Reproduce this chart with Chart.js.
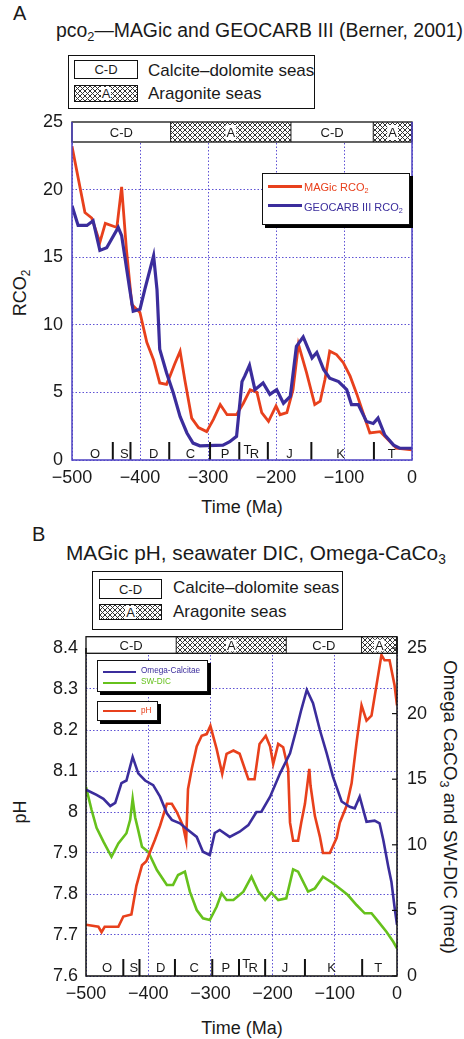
<!DOCTYPE html>
<html>
<head>
<meta charset="utf-8">
<script src="https://cdn.jsdelivr.net/npm/chart.js@4.4.1/dist/chart.umd.min.js"></script>
<style>
  html, body { margin: 0; padding: 0; background: #fff; }
  body { width: 464px; height: 1039px; position: relative; overflow: hidden;
         font-family: "Liberation Sans", Arial, Helvetica, sans-serif; color: #1a1a1a; }
  .t { position: absolute; line-height: 1; white-space: nowrap; }
  .rot { position: absolute; line-height: 1; white-space: nowrap; transform: translate(-50%, -50%) rotate(-90deg); }
  .rot.cw { transform: translate(-50%, -50%) rotate(90deg); }
  sub { font-size: 0.66em; vertical-align: -0.32em; line-height: 0; }
  canvas { position: absolute; left: 0; }
  .key { position: absolute; border: 1.5px solid #111; box-sizing: border-box; }
  .sw { position: absolute; border: 1px solid #111; box-sizing: border-box; background: #fff;
        font-size: 13px; line-height: 1; display: flex; align-items: center; justify-content: center; }
  .sw span { background: #fff; padding: 0 1px; }
  .lbox { position: absolute; border: 1px solid #111; box-sizing: border-box; background: #fff; box-shadow: 3px 3px 0 #000; }
  .ln { position: absolute; height: 3px; }
</style>
</head>
<body>
<div class="t" style="left:13px;top:3px;font-size:20px">A</div>
<div class="t" style="left:56px;top:21px;font-size:19.4px">pco<sub>2</sub>—MAGic and GEOCARB III (Berner, 2001)</div>
<div class="key" style="left:68px;top:55px;width:247px;height:54px"></div>
<div class="sw" style="left:74px;top:60px;width:64px;height:19px">C-D</div>
<div class="sw hatch" style="left:74px;top:85px;width:64px;height:17px"><span>A</span></div>
<div class="t" style="left:148px;top:62.3px;font-size:17px">Calcite–dolomite seas</div>
<div class="t" style="left:148px;top:85px;font-size:17px">Aragonite seas</div>
<div class="rot" style="left:20px;top:293px;font-size:18px">RCO<sub>2</sub></div>
<div class="t" style="left:242px;top:498px;font-size:18px;transform:translateX(-50%)">Time (Ma)</div>

<div class="t" style="left:32px;top:524px;font-size:20px">B</div>
<div class="t" style="left:66px;top:543px;font-size:20.8px">MAGic pH, seawater DIC, Omega-CaCo<sub>3</sub></div>
<div class="key" style="left:92px;top:571px;width:251px;height:59px"></div>
<div class="sw" style="left:99px;top:579px;width:63px;height:20px">C-D</div>
<div class="sw hatch" style="left:99px;top:604px;width:63px;height:16px"><span>A</span></div>
<div class="t" style="left:173px;top:579px;font-size:17px">Calcite–dolomite seas</div>
<div class="t" style="left:173px;top:602.5px;font-size:17px">Aragonite seas</div>
<div class="rot" style="left:20px;top:812px;font-size:18px">pH</div>
<div class="rot cw" style="left:450px;top:807px;font-size:19px">Omega CaCO<sub>3</sub> and SW-DIC (meq)</div>
<div class="t" style="left:242px;top:1019px;font-size:18px;transform:translateX(-50%)">Time (Ma)</div>

<canvas id="chartA" width="464" height="500" style="top:0"></canvas>
<canvas id="chartB" width="464" height="539" style="top:500px"></canvas>

<!-- legends inside the plots -->
<div class="lbox" style="left:262px;top:173px;width:148px;height:52px"></div>
<div class="ln" style="left:268px;top:184.5px;width:34px;background:#e8401c"></div>
<div class="t" style="left:304px;top:182.4px;font-size:11px;color:#e8401c">MAGic RCO<sub>2</sub></div>
<div class="ln" style="left:268px;top:204.3px;width:34px;background:#3b2d9c"></div>
<div class="t" style="left:304px;top:202.4px;font-size:11px;color:#3b2d9c">GEOCARB III RCO<sub>2</sub></div>

<div class="lbox" style="left:97px;top:660px;width:111px;height:32px"></div>
<div class="ln" style="left:103px;top:670.5px;width:33px;height:2.5px;background:#3b2d9c"></div>
<div class="t" style="left:141px;top:667.2px;font-size:8.2px;color:#3b2d9c">Omega-Calcitae</div>
<div class="ln" style="left:103px;top:681.5px;width:33px;height:2.5px;background:#66c11c"></div>
<div class="t" style="left:141px;top:678.2px;font-size:8.2px;color:#66c11c">SW-DIC</div>
<div class="lbox" style="left:97px;top:701px;width:61px;height:20px"></div>
<div class="ln" style="left:103px;top:709.5px;width:33px;height:2.5px;background:#e8401c"></div>
<div class="t" style="left:141px;top:706.5px;font-size:8.2px;color:#e8401c">pH</div>

<script>
// axis ticks
const timeTicks = [-500, -400, -300, -200, -100, 0];
const rcoTicks = [0, 5, 10, 15, 20, 25];
const phTicks = [7.6, 7.7, 7.8, 7.9, 8, 8.1, 8.2, 8.3, 8.4];
const meqTicks = [0, 5, 10, 15, 20, 25];

// calcite / aragonite sea intervals (Ma)
const seaBounds = [-500, -355, -178, -57, 0];
const seaKinds = ['C-D', 'A', 'C-D', 'A'];

// geologic periods (Ma)
const periodBreaks = [-440, -414, -357, -297, -254, -212, -148, -56];
const periodNames = ['O', 'S', 'D', 'C', 'P', 'TR', 'J', 'K', 'T'];
const periodMids = [-466, -423, -380, -326, -275, -236, -180, -105, -30];

// panel A: RCO2
const magicTime = [-500, -481, -471, -459, -451, -434, -427, -420, -412, -400, -390, -380, -371, -361, -356, -349, -341, -334, -324, -314,
  -302, -292, -282, -272, -258, -248, -238, -228, -221, -211, -200, -194, -184, -175, -167, -155, -143, -135, -128, -121,
  -111, -101, -91, -81, -72, -62, -47, -35, -23, 0];
const magicRco2 = [23.2, 18.3, 17.9, 16.1, 17.5, 17.2, 20.2, 15.6, 11.5, 10.9, 8.7, 7.4, 5.7, 5.6, 6.2, 7.1, 8.05, 5.9, 3.1, 2.4,
  2.1, 3.0, 4.1, 3.35, 3.35, 4.2, 5.2, 5.0, 3.5, 2.85, 4.0, 3.35, 3.5, 5.2, 8.55, 6.45, 4.1, 4.35, 5.95, 8.05,
  7.8, 7.2, 6.2, 4.85, 3.5, 2.0, 2.1, 1.5, 0.87, 0.75];
const geocarbTime = [-500, -491, -478, -469, -459, -449, -432, -427, -415, -410, -400, -393, -380, -375, -371, -361, -351, -341, -331, -322,
  -312, -278, -268, -258, -250, -246, -239, -231, -219, -209, -199, -189, -179, -170, -160, -147, -140, -130, -121, -108,
  -96, -89, -79, -67, -57, -50, -40, -27, -18, 0];
const geocarbRco2 = [18.8, 17.35, 17.35, 17.7, 15.5, 15.7, 17.2, 16.6, 12.6, 11.0, 11.15, 12.6, 15.1, 12.6, 8.2, 6.45, 4.95, 3.2, 2.0, 1.25,
  1.05, 1.1, 1.35, 1.75, 5.8, 6.2, 7.0, 5.2, 5.7, 4.85, 5.2, 4.2, 4.7, 8.4, 9.1, 7.55, 7.95, 6.7, 6.05, 5.8,
  5.2, 4.1, 4.1, 2.85, 2.7, 3.1, 1.85, 1.1, 0.87, 0.87];

// panel B: pH (left axis), Omega and SW-DIC (right axis)
const phTime = [-500, -480, -475, -470, -448, -440, -427, -419, -410, -403, -389, -381, -370, -362, -354, -344, -339, -336, -330, -322,
  -314, -306, -300, -290, -281, -274, -263, -253, -239, -229, -221, -211, -204, -199, -191, -183, -175, -172, -167, -159,
  -154, -148, -141, -139, -132, -124, -119, -108, -97, -92, -81, -73, -65, -57, -49, -41, -33, -25, -20, -12, -4, 0];
const phValues = [7.725, 7.72, 7.707, 7.72, 7.72, 7.745, 7.75, 7.82, 7.87, 7.88, 7.933, 7.966, 8.02, 8.02, 8.0, 7.966, 7.93, 8.056, 8.105, 8.16,
  8.186, 8.19, 8.21, 8.154, 8.093, 8.142, 8.15, 8.142, 8.08, 8.08, 8.166, 8.186, 8.16, 8.117, 8.166, 8.158, 8.105, 7.974, 7.93, 7.93,
  7.974, 8.02, 8.105, 8.064, 7.99, 7.94, 7.9, 7.9, 7.937, 7.974, 8.015, 8.07, 8.17, 8.26, 8.223, 8.235, 8.309, 8.383, 8.37, 8.37, 8.31, 8.26];
const omegaTime = [-500, -483, -472, -461, -453, -443, -435, -425, -416, -405, -392, -381, -370, -362, -349, -338, -322, -312, -301, -293,
  -285, -269, -253, -239, -226, -218, -204, -188, -172, -162, -154, -145, -135, -124, -113, -103, -89, -76, -68, -60,
  -49, -36, -28, -22, -14, -9, -4, 0];
const omegaValues = [14.2, 13.8, 13.5, 12.96, 13.2, 14.7, 14.9, 16.7, 15.45, 14.9, 14.55, 13.67, 12.4, 11.9, 11.64, 11.2, 10.6, 9.47, 9.22, 10.9,
  11.13, 10.6, 11.0, 11.5, 12.5, 12.52, 13.67, 15.45, 16.97, 18.75, 20.27, 21.8, 20.8, 18.75, 16.97, 15.2, 13.3, 12.9, 12.78, 13.67,
  11.76, 11.84, 11.64, 10.37, 8.33, 7.19, 5.28, 3.9];
const dicTime = [-500, -491, -483, -472, -459, -448, -435, -429, -425, -421, -416, -410, -400, -386, -370, -360, -352, -341, -333, -322,
  -312, -301, -290, -282, -274, -263, -247, -234, -223, -212, -202, -191, -178, -167, -159, -143, -132, -119, -103, -89,
  -79, -65, -52, -41, -30, -17, -6, 0];
const dicValues = [14.4, 12.65, 11.3, 10.24, 9.09, 10.1, 10.88, 11.9, 13.5, 12.1, 11.1, 9.85, 9.47, 8.08, 6.94, 6.94, 7.7, 7.95, 6.43, 5.03,
  4.4, 4.27, 5.28, 6.3, 5.79, 5.79, 6.43, 7.57, 6.43, 5.79, 6.35, 5.79, 5.92, 8.13, 7.95, 6.43, 6.68, 7.57, 7.07, 6.55,
  6.17, 5.41, 4.78, 4.78, 4.14, 3.38, 2.61, 2.1];

const red = '#e8401c';
const blue = '#3b2d9c';
const green = '#66c11c';
const gridColor = '#5f52d4';
const inkColor = '#1a1a1a';
const fontFamily = '"Liberation Sans", Arial, Helvetica, sans-serif';

const points = (xs, ys) => xs.map((x, i) => ({ x, y: ys[i] }));
const minus = (v) => String(v).replace('-', '\u2212');

// crosshatch tile for the aragonite intervals
const hatchTile = document.createElement('canvas');
hatchTile.width = 5;
hatchTile.height = 5;
(function () {
  const g = hatchTile.getContext('2d');
  g.fillStyle = '#fff';
  g.fillRect(0, 0, 5, 5);
  g.strokeStyle = '#333';
  g.lineWidth = 1;
  g.beginPath();
  g.moveTo(0, 0); g.lineTo(5, 5);
  g.moveTo(5, 0); g.lineTo(0, 5);
  g.stroke();
})();
document.querySelectorAll('.hatch').forEach((el) => {
  el.style.backgroundImage = `url(${hatchTile.toDataURL()})`;
});

const seaBand = {
  id: 'seaBand',
  afterDraw(chart, args, opts) {
    const { ctx, chartArea: a, scales: { x } } = chart;
    const top = a.top + opts.offset;
    const h = opts.height;
    const pattern = ctx.createPattern(hatchTile, 'repeat');
    ctx.save();
    ctx.font = `13px ${fontFamily}`;
    ctx.textAlign = 'center';
    ctx.textBaseline = 'middle';
    seaKinds.forEach((kind, i) => {
      const x0 = x.getPixelForValue(seaBounds[i]);
      const x1 = x.getPixelForValue(seaBounds[i + 1]);
      ctx.fillStyle = kind === 'A' ? pattern : '#fff';
      ctx.fillRect(x0, top, x1 - x0, h);
      const cx = (x0 + x1) / 2;
      if (kind === 'A') {
        const w = ctx.measureText(kind).width;
        ctx.fillStyle = '#fff';
        ctx.fillRect(cx - w / 2 - 1, top + 3, w + 2, h - 5);
      }
      ctx.fillStyle = inkColor;
      ctx.fillText(kind, cx, top + h / 2 + 1);
      if (i > 0) {
        ctx.strokeStyle = '#222';
        ctx.lineWidth = 1;
        ctx.beginPath();
        ctx.moveTo(x0, top);
        ctx.lineTo(x0, top + h);
        ctx.stroke();
      }
    });
    ctx.strokeStyle = '#111';
    ctx.lineWidth = 1.3;
    ctx.strokeRect(a.left, top, a.right - a.left, h);
    ctx.restore();
  }
};

const periods = {
  id: 'periods',
  afterDatasetsDraw(chart, args, opts) {
    const { ctx, chartArea: a, scales: { x } } = chart;
    ctx.save();
    ctx.strokeStyle = '#111';
    ctx.lineWidth = 2;
    periodBreaks.forEach((t) => {
      const px = x.getPixelForValue(t);
      ctx.beginPath();
      ctx.moveTo(px, a.bottom);
      ctx.lineTo(px, a.bottom - opts.tick);
      ctx.stroke();
    });
    ctx.fillStyle = inkColor;
    ctx.font = `13px ${fontFamily}`;
    ctx.textAlign = 'center';
    ctx.textBaseline = 'alphabetic';
    const base = a.bottom - opts.lift;
    periodNames.forEach((name, i) => {
      const px = x.getPixelForValue(periodMids[i]);
      if (name === 'TR') {
        ctx.fillText('T', px - 4, base - 4);
        ctx.fillText('R', px + 3, base);
      } else {
        ctx.fillText(name, px, base);
      }
    });
    ctx.restore();
  }
};

const frame = {
  id: 'frame',
  afterDraw(chart, args, opts) {
    const { ctx, chartArea: a } = chart;
    ctx.save();
    ctx.strokeStyle = opts.color;
    ctx.lineWidth = 1.5;
    ctx.beginPath();
    ctx.moveTo(a.left, a.top);
    ctx.lineTo(a.left, a.bottom);
    ctx.lineTo(a.right, a.bottom);
    ctx.lineTo(a.right, a.top - (opts.rise || 0));
    ctx.stroke();
    if (opts.rightTicks) {
      const y1 = chart.scales.y1;
      ctx.lineWidth = 1.2;
      meqTicks.forEach((v) => {
        const py = y1.getPixelForValue(v);
        ctx.beginPath();
        ctx.moveTo(a.right - 5, py);
        ctx.lineTo(a.right, py);
        ctx.stroke();
      });
    }
    ctx.restore();
  }
};

Chart.defaults.font.family = fontFamily;
Chart.defaults.color = inkColor;

function lineSet(label, data, color, width, axis) {
  return {
    label,
    data,
    borderColor: color,
    backgroundColor: color,
    borderWidth: width,
    pointRadius: 0,
    tension: 0,
    fill: false,
    yAxisID: axis || 'y'
  };
}

function timeAxis() {
  return {
    type: 'linear',
    min: -500,
    max: 0,
    afterBuildTicks: (s) => { s.ticks = timeTicks.map((value) => ({ value })); },
    afterFit: (s) => { s.height = 30; },
    grid: { color: gridColor, lineWidth: 1, drawTicks: false },
    border: { display: false, dash: [1.5, 2] },
    ticks: { padding: 7, font: { size: 18 }, color: inkColor, maxRotation: 0, callback: (v) => minus(v) }
  };
}

new Chart(document.getElementById('chartA'), {
  type: 'line',
  data: {
    datasets: [
      lineSet('GEOCARB III RCO2', points(geocarbTime, geocarbRco2), blue, 3.2),
      lineSet('MAGic RCO2', points(magicTime, magicRco2), red, 2.8)
    ]
  },
  options: {
    responsive: false,
    animation: false,
    devicePixelRatio: 1,
    events: [],
    layout: { padding: { top: 122, right: 52, left: 0, bottom: 10 } },
    plugins: {
      legend: { display: false },
      tooltip: { enabled: false },
      seaBand: { offset: 0, height: 20 },
      periods: { tick: 18, lift: 2 },
      frame: { color: '#4f43c2' }
    },
    scales: {
      x: timeAxis(),
      y: {
        type: 'linear',
        min: 0,
        max: 25,
        afterBuildTicks: (s) => { s.ticks = rcoTicks.map((value) => ({ value })); },
        afterFit: (s) => { s.width = 72; },
        grid: { color: gridColor, lineWidth: 1, drawTicks: false },
        border: { display: false, dash: [1.5, 2] },
        ticks: { padding: 9, font: { size: 18 }, color: inkColor }
      }
    }
  },
  plugins: [periods, seaBand, frame]
});

new Chart(document.getElementById('chartB'), {
  type: 'line',
  data: {
    datasets: [
      lineSet('Omega-Calcitae', points(omegaTime, omegaValues), blue, 2.6, 'y1'),
      lineSet('pH', points(phTime, phValues), red, 2.6, 'y'),
      lineSet('SW-DIC', points(dicTime, dicValues), green, 2.6, 'y1')
    ]
  },
  options: {
    responsive: false,
    animation: false,
    devicePixelRatio: 1,
    events: [],
    layout: { padding: { top: 148, right: 0, left: 0, bottom: 33 } },
    plugins: {
      legend: { display: false },
      tooltip: { enabled: false },
      seaBand: { offset: -11.3, height: 16.6 },
      periods: { tick: 17, lift: 4 },
      frame: { color: '#111', rightTicks: true, rise: 11.3 }
    },
    scales: {
      x: timeAxis(),
      y: {
        type: 'linear',
        position: 'left',
        min: 7.6,
        max: 8.4,
        afterBuildTicks: (s) => { s.ticks = phTicks.map((value) => ({ value })); },
        afterFit: (s) => { s.width = 86; },
        grid: { color: gridColor, lineWidth: 1, drawTicks: false },
        border: { display: false, dash: [1.5, 2] },
        ticks: { padding: 8, font: { size: 18 }, color: inkColor, callback: (v) => String(Math.round(v * 10) / 10) }
      },
      y1: {
        type: 'linear',
        position: 'right',
        min: 0,
        max: 25,
        afterBuildTicks: (s) => { s.ticks = meqTicks.map((value) => ({ value })); },
        afterFit: (s) => { s.width = 67; },
        grid: { drawOnChartArea: false, drawTicks: false },
        border: { display: false },
        ticks: { padding: 10, font: { size: 18 }, color: inkColor }
      }
    }
  },
  plugins: [periods, seaBand, frame]
});
</script>
</body>
</html>
